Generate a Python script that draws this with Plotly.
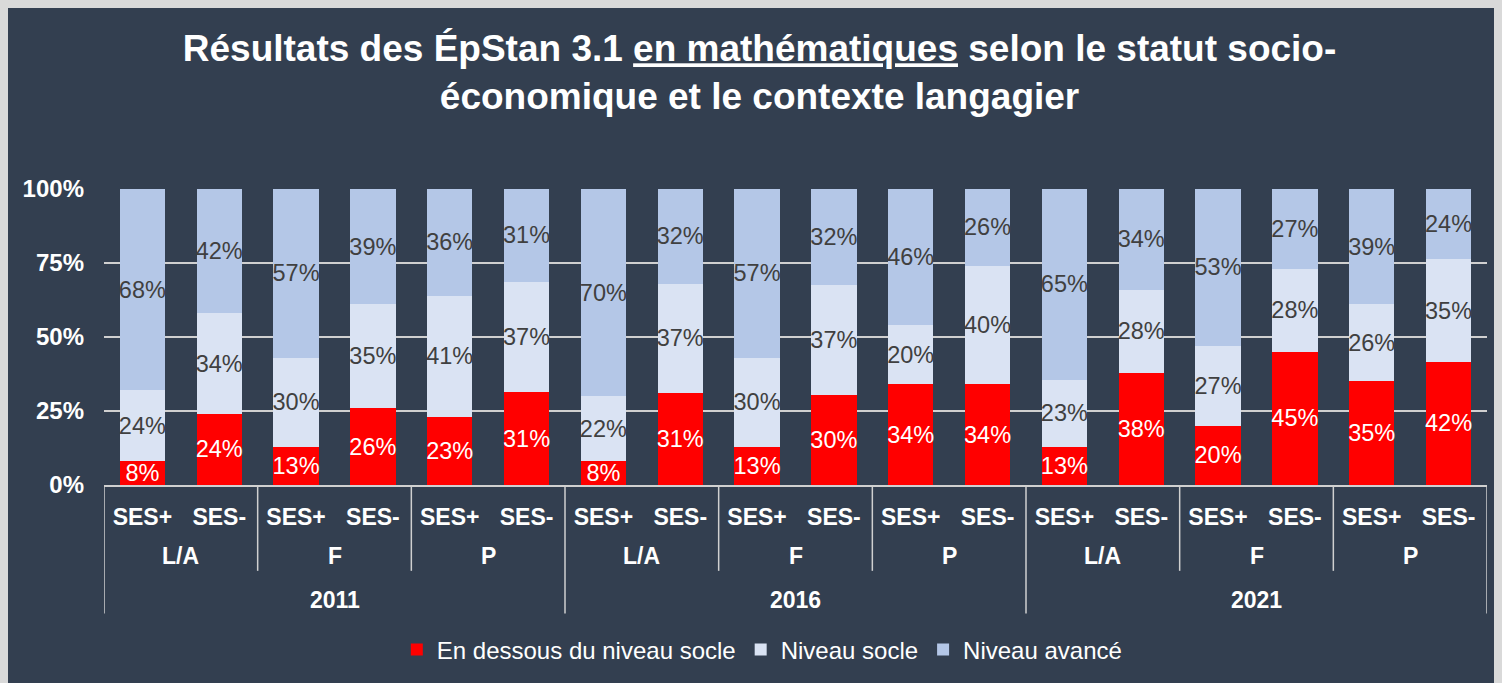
import plotly.graph_objects as go

# categories
years = ['2011', '2016', '2021']
langs = ['L/A', 'F', 'P']
ses = ['SES+', 'SES-']

# values per bar (year -> lang -> SES+, SES-)
below = [8, 24, 13, 26, 23, 31,
         8, 31, 13, 30, 34, 34,
         13, 38, 20, 45, 35, 42]
socle = [24, 34, 30, 35, 41, 37,
         22, 37, 30, 37, 20, 40,
         23, 28, 27, 28, 26, 35]
avance = [68, 42, 57, 39, 36, 31,
          70, 32, 57, 32, 46, 26,
          65, 34, 53, 27, 39, 24]

BG = '#333f50'
GRID = '#d0d0d0'
FONT = 'Liberation Sans, Arial, sans-serif'

n = len(below)
xs = list(range(n))
ses_labels = [ses[i % 2] for i in xs]

series = [
    ('En dessous du niveau socle', below, '#ff0000', 'white'),
    ('Niveau socle', socle, '#dae3f3', '#404040'),
    ('Niveau avancé', avance, '#b4c7e7', '#404040'),
]

fig = go.Figure()
for name, vals, col, tcol in series:
    fig.add_trace(go.Bar(
        x=xs, y=vals, name=name,
        marker=dict(color=col, line=dict(width=0)),
        text=[f'{v}%' for v in vals],
        textposition='inside', insidetextanchor='middle',
        textangle=0, constraintext='none',
        textfont=dict(color=tcol, size=23.5, family=FONT),
        hoverinfo='skip',
    ))

shapes = []
annotations = []
# language group labels and dividers
for gi in range(len(years) * len(langs)):
    center = gi * 2 + 0.5
    annotations.append(dict(x=center, y=-0.239, xref='x', yref='paper',
                            xanchor='center', yanchor='middle',
                            text=f'<b>{langs[gi % 3]}</b>', showarrow=False,
                            font=dict(color='white', size=23, family=FONT)))
    if gi % 3 != 0:
        shapes.append(dict(type='line', xref='x', yref='paper',
                           x0=gi * 2 - 0.5, x1=gi * 2 - 0.5, y0=0, y1=-0.29,
                           line=dict(color=GRID, width=1.5)))
# year labels and dividers
for yi, yr in enumerate(years):
    annotations.append(dict(x=yi * 6 + 2.5, y=-0.387, xref='x', yref='paper',
                            xanchor='center', yanchor='middle',
                            text=f'<b>{yr}</b>', showarrow=False,
                            font=dict(color='white', size=23, family=FONT)))
for b in range(len(years) + 1):
    shapes.append(dict(type='line', xref='x', yref='paper',
                       x0=b * 6 - 0.5, x1=b * 6 - 0.5, y0=0, y1=-0.434,
                       line=dict(color=GRID, width=1.5)))

title = ('<b>Résultats des ÉpStan 3.1 <u>en mathématiques</u> selon le statut socio-'
         '<br>économique et le contexte langagier</b>')

fig.update_layout(
    width=1494, height=675,
    margin=dict(l=96, r=15, t=181, b=197),
    paper_bgcolor=BG, plot_bgcolor=BG,
    barmode='stack', barnorm='fraction', bargap=0.41,
    title=dict(text=title, x=0.474, xref='paper', xanchor='center',
               y=0.921, yref='container', yanchor='middle',
               font=dict(color='white', size=37, family=FONT)),
    font=dict(family=FONT, color='white'),
    xaxis=dict(range=[-0.5, n - 0.5], tickmode='array', tickvals=xs,
               ticktext=[f'<b>{s}</b>' for s in ses_labels],
               ticks='outside', ticklen=11, tickcolor='rgba(0,0,0,0)',
               tickfont=dict(color='white', size=23, family=FONT),
               showgrid=False, showline=True, linecolor=GRID, linewidth=1.5,
               zeroline=False, fixedrange=True),
    yaxis=dict(range=[0, 1], tickmode='array', tickvals=[0, 0.25, 0.5, 0.75, 1],
               ticktext=['<b>0%</b>', '<b>25%</b>', '<b>50%</b>', '<b>75%</b>', '<b>100%</b>'],
               tickfont=dict(color='white', size=24, family=FONT),
               showgrid=True, gridcolor=GRID, gridwidth=1.5, zeroline=False,
               ticks='', ticklabelstandoff=19, fixedrange=True),
    legend=dict(orientation='h', x=0.476, xanchor='center', y=-0.552, yanchor='middle',
                font=dict(color='white', size=24, family=FONT),
                bgcolor='rgba(0,0,0,0)', traceorder='normal', itemwidth=30),
    shapes=shapes,
    annotations=annotations,
    showlegend=True,
)

fig.write_html('out.html', post_script="document.body.style.background='#d9d9d9';")
